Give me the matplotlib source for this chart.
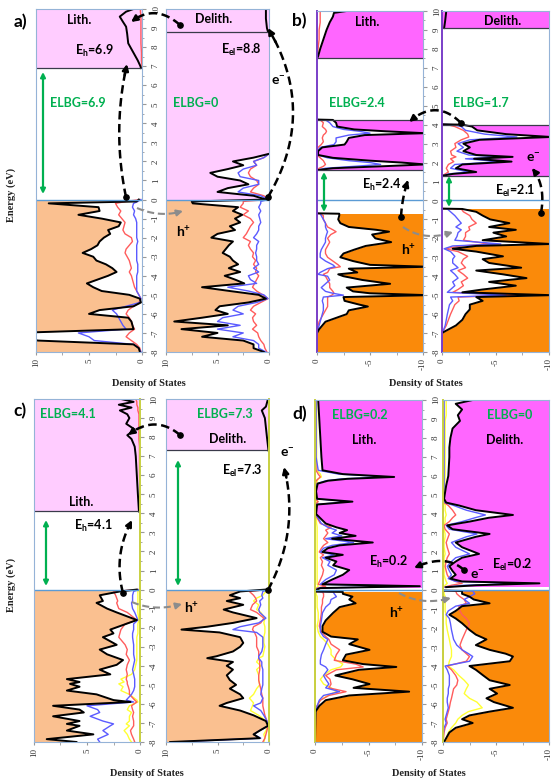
import numpy as np
import matplotlib
matplotlib.use('Agg')
import matplotlib.pyplot as plt
from matplotlib.lines import Line2D
from matplotlib.patches import FancyArrowPatch

W, H = 552, 782
plt.rcParams['font.family'] = ['Lato', 'DejaVu Sans']
plt.rcParams['mathtext.fontset'] = 'custom'
plt.rcParams['mathtext.rm'] = 'Lato:bold'
plt.rcParams['mathtext.it'] = 'Lato:bold'
plt.rcParams['mathtext.bf'] = 'Lato:bold'

# ---------------- DATA ----------------
ENERGY_TICKS = [-8, -7, -6, -5, -4, -3, -2, -1, 0, 1, 2, 3, 4, 5, 6, 7, 8, 9, 10]
DOS_TICKS_POS = [10, 5, 0]
DOS_TICKS_NEG = [0, -5, -10]

# panel a) left (lithiated)
AL_BANDS = [(-8, 0, 'vb'), (0, 6.9, 'gap'), (6.9, 10, 'cb')]
AL_LINES = [6.9]
AL_VB_E = [0.0, -0.1, -0.2, -0.4, -0.6, -0.8, -1.0, -1.2, -1.4, -1.6, -1.8, -2.0, -2.2, -2.4, -2.6, -2.8, -3.0,
           -3.2, -3.4, -3.6, -3.8, -4.0, -4.2, -4.4, -4.6, -4.8, -5.0, -5.2, -5.4, -5.6, -5.8, -6.0, -6.2, -6.4,
           -6.6, -6.8, -7.0, -7.2, -7.4, -7.6, -7.8, -8.0]
AL_VB_TOT = [0.3, 0.5, 8.8, 4.1, 4.0, 6.0, 3.8, 2.0, 2.2, 3.2, 3.0, 3.6, 4.0, 4.2, 4.8, 5.6, 4.6, 4.3, 3.4, 2.8, 2.4,
             3.2, 4.2, 5.2, 4.6, 3.8, 1.2, 0.2, 0.1, 0.8, 4.0, 5.0, 1.3, 1.0, 0.9, 0.8, 12, 12, 9.8, 0.8, 0.3, 0.2]
AL_VB_RED = [0.2, 1.5, 2.5, 2.3, 2.0, 2.2, 1.9, 1.6, 1.7, 1.8, 1.6, 1.0, 0.9, 1.2, 1.5, 1.6, 1.4, 1.2, 1.1, 1.0, 1.2,
             1.0, 0.9, 0.8, 0.7, 0.5, 0.3, 0.1, 0.3, 0.8, 1.3, 1.5, 1.2, 1.0, 0.9, 0.7, 1.2, 1.5, 1.0, 0.5, 0.2, 0.1]
AL_VB_BLUE = [0.1, 0.4, 0.8, 0.9, 0.7, 0.8, 0.6, 0.5, 0.5, 0.5, 0.5, 0.5, 0.4, 0.5, 0.5, 0.5, 0.5, 0.5, 0.4, 0.4, 0.4,
              0.5, 0.5, 0.5, 0.5, 0.5, 0.3, 0.1, 0.2, 1.5, 2.8, 2.4, 2.2, 2.0, 1.8, 1.5, 6.0, 5.0, 4.5, 0.8, 0.3, 0.1]
AL_CB_E = [10.0, 9.86, 9.6, 9.33, 9.07, 8.7, 8.2, 7.7, 7.3, 7.0, 6.9]
AL_CB_TOT = [0.8, 1.5, 2.1, 1.8, 1.5, 1.4, 1.3, 0.8, 0.4, 0.15, 0.1]
AL_CB_RED = [0.15, 0.15, 0.1, 0.1, 0.1, 0.1, 0.1, 0.05, 0.05, 0.0, 0.0]

# panel a) right (delithiated)
AR_BANDS = [(-8, 0, 'vb'), (0, 10, 'cb')]
AR_LINES = [8.8]
AR_VB_E = AL_VB_E
AR_VB_TOT = [0.3, 7.5, 7.4, 3.0, 3.5, 2.6, 3.3, 2.8, 3.8, 3.3, 5.0, 5.6, 3.5, 3.9, 4.2, 4.5, 3.8, 3.5, 3.0, 3.9, 2.8,
             4.3, 3.3, 2.4, 6.5, 3.8, 1.0, 0.3, 2.0, 4.8, 5.2, 4.0, 6.5, 9.2, 4.0, 8.5, 5.0, 6.5, 2.5, 1.5, 1.5, 0.5]
AR_VB_RED = [0.1, 2.5, 2.5, 2.8, 2.0, 2.5, 1.8, 1.5, 1.8, 2.0, 2.2, 2.5, 1.8, 2.0, 1.8, 1.5, 1.6, 1.3, 1.5, 1.2, 1.3,
             1.0, 1.2, 1.4, 1.6, 1.2, 0.6, 0.1, 0.8, 1.5, 1.8, 1.3, 1.6, 1.5, 1.2, 1.6, 1.1, 1.0, 0.8, 0.5, 0.4, 0.2]
AR_VB_BLUE = [0.1, 0.8, 0.8, 1.0, 0.8, 1.0, 0.9, 0.8, 1.0, 1.0, 1.2, 1.5, 1.0, 1.2, 1.2, 1.3, 1.2, 1.2, 1.0, 1.5, 1.0,
              2.0, 1.8, 1.2, 4.0, 2.0, 0.5, 0.1, 1.2, 3.0, 3.5, 2.5, 4.5, 5.0, 2.8, 5.0, 2.5, 3.5, 1.5, 1.0, 1.0, 0.3]
AR_CB_E = [2.4, 2.2, 2.0, 1.8, 1.6, 1.4, 1.2, 1.0, 0.8, 0.6, 0.4, 0.2, 0.0]
AR_CB_TOT = [0.0, 1.5, 3.5, 2.5, 4.0, 5.7, 5.0, 2.8, 2.0, 4.0, 5.0, 1.5, 0.3]
AR_CB_RED = [0.0, 0.5, 1.5, 1.2, 1.8, 2.0, 1.8, 1.2, 1.0, 1.5, 1.8, 0.5, 0.1]
AR_CB_BLUE = [0.0, 0.5, 1.5, 1.2, 2.5, 3.0, 2.8, 1.0, 1.0, 2.5, 3.0, 0.8, 0.1]
AR_TOP_E = [10.0, 9.5, 9.0, 8.8]
AR_TOP_TOT = [0.3, 0.3, 0.2, 0.1]

# panel b) left
BL_BANDS = [(-8, -0.7, 'vb'), (-0.7, 1.6, 'gap'), (1.6, 4.25, 'cb'), (4.25, 7.5, 'gap'), (7.5, 10, 'cb')]
BL_LINES = [1.6, 4.25, 7.5]
BL_VB_E = [-0.68, -0.7, -0.8, -1.0, -1.2, -1.4, -1.55, -1.65, -1.8, -2.0, -2.2, -2.4, -2.6, -2.8, -3.0, -3.2, -3.4,
           -3.5, -3.6, -3.8, -3.9, -4.0, -4.2, -4.4, -4.6, -4.8, -4.9, -5.0, -5.1, -5.3, -5.5, -5.6, -5.8, -6.0,
           -6.2, -6.4, -6.6, -6.8, -7.0, -8.0]
BL_VB_TOT = [0.0, 2.1, 2.1, 2.0, 2.2, 3.0, 5.6, 6.8, 5.2, 5.5, 7.0, 4.6, 3.5, 2.5, 2.2, 3.4, 5.0, 10.5, 3.0, 3.8, 2.0,
             2.5, 4.3, 6.9, 2.8, 3.4, 5.0, 10.5, 2.5, 2.6, 4.0, 4.8, 3.0, 2.8, 1.8, 0.8, 0.5, 0.2, 0.0, 0.0]
BL_VB_RED = [0.0, 0.3, 0.6, 0.6, 0.8, 1.0, 1.5, 1.8, 1.3, 1.0, 1.2, 1.0, 0.8, 0.8, 1.0, 1.5, 2.0, 2.2, 1.2, 1.0, 0.6,
             0.8, 1.0, 1.2, 1.2, 1.5, 1.6, 1.4, 1.0, 1.0, 1.0, 1.0, 0.8, 0.6, 0.4, 0.2, 0.1, 0.05, 0.0, 0.0]
BL_VB_BLUE = [0.0, 0.3, 0.4, 0.6, 0.8, 0.8, 0.9, 1.0, 0.9, 0.8, 0.8, 0.6, 0.4, 0.3, 0.3, 0.8, 1.5, 1.7, 1.0, 0.3, 0.1,
              1.0, 1.2, 0.8, 0.4, 0.8, 1.5, 2.5, 0.6, 0.5, 0.6, 0.6, 0.6, 0.5, 0.4, 0.3, 0.2, 0.1, 0.0, 0.0]
BL_CB_E = [4.27, 4.25, 4.1, 3.9, 3.75, 3.65, 3.55, 3.45, 3.3, 3.1, 2.95, 2.8, 2.6, 2.4, 2.25, 2.1, 2.0, 1.9, 1.8,
           1.7, 1.6]
BL_CB_TOT = [0.0, 1.5, 1.8, 1.9, 3.5, 6.5, 10.2, 4.5, 3.0, 2.8, 2.6, 0.5, 0.1, 0.1, 1.5, 5.0, 8.0, 10.2, 6.0, 1.5, 0.0]
BL_CB_RED = [0.0, 0.3, 0.6, 0.5, 0.8, 0.9, 0.8, 0.6, 0.5, 0.6, 0.4, 0.1, 0.0, 0.0, 0.3, 0.6, 0.7, 0.8, 0.6, 0.2, 0.0]
BL_CB_BLUE = [0.0, 0.8, 1.2, 1.5, 2.5, 4.0, 5.0, 3.0, 1.8, 1.8, 1.6, 0.3, 0.05, 0.05, 1.0, 3.0, 5.0, 6.0, 3.5, 0.8,
              0.0]
BL_TOP_E = [10.0, 9.9, 9.7, 9.4, 9.0, 8.5, 8.0, 7.6, 7.5]
BL_TOP_TOT = [2.8, 1.6, 1.5, 1.2, 0.9, 0.6, 0.3, 0.1, 0.0]
BL_TOP_RED = [0.3, 0.3, 0.3, 0.3, 0.2, 0.2, 0.1, 0.05, 0.0]

# panel b) right
BR_BANDS = [(-8, -0.45, 'vb'), (-0.45, 1.3, 'gap'), (1.3, 4.0, 'cb'), (4.0, 9.1, 'gap'), (9.1, 10, 'cb')]
BR_LINES = [1.3, 4.0, 9.1]
BR_VB_E = [-0.43, -0.45, -0.6, -0.8, -1.0, -1.2, -1.4, -1.55, -1.7, -1.9, -2.1, -2.3, -2.4, -2.55, -2.7, -2.95, -3.1,
           -3.3, -3.55, -3.7, -3.9, -4.1, -4.3, -4.5, -4.7, -4.85, -5.0, -5.1, -5.3, -5.5, -5.75, -6.0, -6.3, -6.6,
           -6.9, -7.0, -8.0]
BR_VB_TOT = [0.0, 1.9, 3.2, 3.8, 4.5, 6.3, 4.4, 6.9, 4.8, 6.0, 3.8, 10.2, 3.2, 1.0, 3.2, 5.7, 3.8, 4.4, 7.4, 3.2, 5.7,
             7.9, 4.4, 6.9, 3.8, 1.9, 10.2, 3.2, 3.8, 2.6, 2.6, 2.2, 1.9, 1.3, 0.3, 0.0, 0.0]
BR_VB_RED = [0.0, 1.8, 2.0, 2.6, 2.8, 3.2, 2.5, 2.6, 2.2, 2.2, 2.0, 4.5, 1.8, 0.3, 1.5, 2.4, 2.0, 1.8, 2.2, 1.5, 2.0,
             2.4, 1.8, 2.0, 1.5, 1.0, 7.0, 1.5, 1.6, 1.2, 1.0, 0.8, 0.6, 0.4, 0.1, 0.0, 0.0]
BR_VB_BLUE = [0.0, 0.5, 0.8, 1.2, 1.5, 1.8, 1.3, 1.8, 1.5, 1.4, 1.2, 5.5, 1.0, 0.2, 0.8, 1.2, 1.0, 1.0, 1.5, 0.8, 1.2,
              1.5, 1.0, 1.2, 0.8, 0.5, 6.0, 0.8, 1.0, 0.7, 0.6, 0.5, 0.4, 0.3, 0.1, 0.0, 0.0]
BR_CB_E = [4.02, 4.0, 3.9, 3.7, 3.5, 3.35, 3.2, 3.0, 2.8, 2.6, 2.4, 2.3, 2.2, 2.05, 1.9, 1.7, 1.5, 1.4, 1.3]
BR_CB_TOT = [0.0, 1.9, 2.8, 3.3, 6.0, 10.2, 3.5, 2.0, 2.6, 2.0, 3.2, 6.6, 3.0, 6.5, 1.9, 1.3, 3.2, 1.0, 0.0]
BR_CB_RED = [0.0, 0.5, 1.2, 2.0, 2.4, 2.5, 1.8, 1.2, 1.3, 0.8, 0.9, 1.3, 0.8, 1.1, 0.6, 0.4, 0.6, 0.3, 0.0]
BR_CB_BLUE = [0.0, 1.0, 1.8, 2.2, 4.0, 7.0, 2.6, 1.5, 2.0, 1.4, 2.5, 5.5, 2.2, 5.5, 1.2, 0.8, 2.5, 0.6, 0.0]
BR_TOP_E = [10.0, 9.5, 9.1]
BR_TOP_TOT = [0.4, 0.3, 0.2]

# panel c) left
CL_BANDS = [(-8, 0, 'vb'), (0, 4.1, 'gap'), (4.1, 10, 'cb')]
CL_LINES = [4.1]
CL_VB_E = [0.0, -0.1, -0.3, -0.6, -0.7, -1.0, -1.2, -1.6, -1.8, -2.1, -2.3, -2.5, -2.9, -3.15, -3.4, -3.7, -3.95,
           -4.2, -4.45, -4.7, -4.85, -4.95, -5.1, -5.3, -5.5, -5.8, -5.9, -6.1, -6.3, -6.45, -6.65, -6.9, -7.05,
           -7.15, -7.4, -7.6, -7.85, -8.0]
CL_VB_TOT = [0.3, 1.9, 3.8, 3.5, 4.1, 3.1, 2.2, 0.3, 1.3, 2.8, 2.5, 3.5, 2.2, 3.8, 3.1, 1.6, 2.2, 3.8, 2.8, 6.9, 5.7,
             6.6, 5.7, 6.9, 4.1, 2.5, 0.9, 8.2, 5.7, 5.3, 8.2, 5.7, 6.9, 5.7, 6.9, 4.4, 8.8, 6.0]
CL_VB_RED = [0.2, 2.5, 2.3, 2.1, 2.2, 2.0, 1.2, 0.3, 1.4, 1.8, 1.9, 2.0, 1.4, 1.2, 1.3, 1.0, 1.2, 1.3, 1.2, 1.3, 1.2,
             1.2, 1.1, 1.0, 1.0, 0.5, 0.3, 0.8, 0.7, 0.6, 0.7, 0.6, 0.6, 0.6, 0.9, 0.8, 0.6, 0.5]
CL_VB_BLUE = [0.1, 0.6, 0.7, 0.7, 0.8, 0.7, 0.5, 0.2, 0.6, 0.6, 0.7, 0.7, 0.6, 0.6, 0.6, 0.5, 0.6, 0.7, 0.6, 0.5, 0.5,
              0.5, 0.5, 0.6, 0.8, 1.3, 0.6, 5.0, 4.0, 3.8, 4.7, 3.5, 2.5, 2.8, 3.5, 3.0, 4.0, 3.8]
CL_VB_YEL = [0.1, 0.2, 0.2, 0.2, 0.2, 0.2, 0.2, 0.1, 0.2, 0.2, 0.2, 0.3, 0.3, 0.3, 0.3, 0.3, 0.4, 0.5, 0.8, 1.8, 1.5,
             2.0, 1.6, 1.8, 1.0, 0.3, 0.2, 1.0, 1.2, 0.8, 1.0, 1.0, 1.3, 1.0, 1.5, 1.2, 1.0, 0.8]
CL_CB_E = [10.0, 9.85, 9.7, 9.55, 9.4, 9.2, 9.0, 8.7, 8.4, 8.1, 7.9, 7.5, 7.0, 6.0, 5.0, 4.1]
CL_CB_TOT = [1.8, 0.6, 2.0, 0.8, 1.9, 1.2, 1.0, 1.3, 0.5, 1.2, 0.8, 0.5, 0.4, 0.3, 0.2, 0.1]
CL_CB_RED = [0.4, 0.3, 0.3, 0.2, 0.2, 0.1, 0.1, 0.1, 0.1, 0.1, 0.1, 0.05, 0.05, 0.05, 0.0, 0.0]

# panel c) right
CR_BANDS = [(-8, 0, 'vb'), (0, 7.3, 'gap'), (7.3, 10, 'cb')]
CR_LINES = [7.3]
CR_VB_E = [0.0, -0.1, -0.3, -0.45, -0.6, -0.8, -1.05, -1.2, -1.5, -1.75, -1.95, -2.1, -2.25, -2.5, -2.8, -3.0, -3.25,
           -3.5, -3.6, -3.8, -4.0, -4.2, -4.5, -4.75, -5.0, -5.2, -5.5, -5.7, -5.95, -6.1, -6.35, -6.6, -6.9, -7.15,
           -7.4, -7.6, -7.8, -8.0]
CR_VB_TOT = [0.3, 2.8, 3.8, 2.8, 4.1, 2.5, 4.4, 3.5, 1.2, 3.5, 6.0, 8.5, 4.8, 2.8, 2.5, 2.8, 3.5, 5.1, 6.0, 3.5, 4.1,
             3.5, 4.1, 3.8, 3.2, 3.8, 2.8, 2.5, 4.1, 4.8, 2.8, 1.5, 0.3, 0.1, 0.9, 1.5, 0.9, 9.6]
CR_VB_RED = [0.1, 1.9, 1.5, 1.3, 1.2, 1.6, 1.8, 1.2, 0.5, 0.8, 1.5, 1.6, 1.4, 1.2, 1.2, 1.2, 1.0, 1.0, 1.0, 0.9, 0.9,
             0.9, 1.0, 1.0, 0.9, 0.8, 0.7, 0.6, 0.6, 0.6, 0.5, 0.4, 0.2, 0.1, 0.2, 0.3, 0.4, 0.6]
CR_VB_BLUE = [0.1, 0.6, 0.7, 0.6, 0.9, 0.8, 1.0, 0.9, 0.3, 1.0, 2.8, 3.5, 1.2, 0.6, 0.6, 0.6, 0.7, 1.0, 1.0, 0.7, 0.7,
              0.6, 0.6, 0.6, 0.6, 0.7, 0.8, 0.6, 0.8, 1.5, 0.8, 0.5, 0.2, 0.05, 0.9, 1.5, 0.8, 9.0]
CR_VB_YEL = [0.1, 0.3, 0.6, 1.2, 1.5, 1.0, 1.2, 0.8, 0.4, 0.5, 0.4, 0.4, 0.4, 0.5, 0.5, 0.4, 0.5, 0.6, 1.0, 1.2, 0.8,
             1.2, 1.0, 1.0, 0.9, 1.2, 1.5, 1.9, 1.5, 1.6, 1.8, 1.0, 0.3, 0.1, 0.3, 0.5, 0.4, 0.5]
CR_CB_E = [10.0, 9.6, 9.4, 9.0, 8.0, 7.3]
CR_CB_TOT = [0.1, 0.3, 0.7, 0.4, 0.2, 0.05]

# panel d) left
DL_BANDS = [(-8, -0.1, 'vb'), (-0.1, 0.1, 'gap'), (0.1, 10, 'cb')]
DL_LINES = []
DL_CB_E = [10.0, 9.0, 8.0, 7.0, 6.3, 6.1, 5.95, 5.85, 5.75, 5.6, 5.2, 4.8, 4.65, 4.5, 4.0, 3.5, 3.3, 3.15, 3.0, 2.85,
           2.7, 2.5, 2.35, 2.2, 2.0, 1.85, 1.7, 1.5, 1.3, 1.05, 0.8, 0.55, 0.3, 0.2, 0.1, 0.0]
DL_CB_TOT = [0.3, 0.4, 0.5, 0.6, 0.7, 2.6, 7.4, 3.0, 1.2, 0.25, 0.1, 0.2, 3.5, 0.2, 0.1, 1.0, 2.0, 3.0, 2.3, 3.8, 1.6,
             5.4, 2.3, 1.2, 0.7, 2.6, 1.0, 2.0, 1.7, 3.2, 2.6, 1.6, 0.7, 9.8, 0.5, 0.1]
DL_CB_RED = [0.05, 0.05, 0.05, 0.05, 0.1, 0.3, 0.5, 0.3, 0.1, 0.05, 0.0, 0.0, 0.3, 0.0, 0.0, 0.5, 1.5, 1.0, 1.2, 1.0,
             0.8, 1.2, 0.8, 0.6, 0.4, 0.8, 0.5, 0.7, 0.6, 0.8, 0.7, 0.5, 0.3, 1.0, 0.2, 0.0]
DL_CB_BLUE = [0.1, 0.1, 0.1, 0.1, 0.3, 2.2, 6.8, 2.5, 1.0, 0.2, 0.05, 0.1, 3.2, 0.1, 0.05, 0.6, 1.2, 2.0, 1.6, 2.5,
              1.0, 3.6, 1.6, 0.8, 0.5, 1.8, 0.7, 1.4, 1.2, 2.0, 1.8, 1.0, 0.5, 9.0, 0.3, 0.05]
DL_CB_YEL = [0.15, 0.15, 0.15, 0.15, 0.2, 0.5, 0.6, 0.3, 0.2, 0.15, 0.1, 0.1, 0.2, 0.1, 0.1, 0.15, 0.2, 0.2, 0.2, 0.2,
             0.2, 0.2, 0.2, 0.2, 0.2, 0.2, 0.2, 0.2, 0.2, 0.2, 0.2, 0.2, 0.2, 0.3, 0.1, 0.0]
DL_VB_E = [-0.08, -0.1, -0.2, -0.35, -0.5, -0.7, -0.9, -1.2, -1.6, -1.9, -2.2, -2.45, -2.6, -2.85, -3.15, -3.4, -3.7,
           -3.9, -4.05, -4.2, -4.5, -4.7, -4.95, -5.15, -5.35, -5.55, -5.8, -6.1, -6.4, -8.0]
DL_VB_TOT = [0.0, 2.6, 2.6, 3.5, 3.2, 3.8, 2.3, 1.7, 1.0, 0.7, 0.7, 1.5, 4.0, 3.2, 5.1, 2.9, 2.6, 4.5, 7.6, 4.1, 1.9,
             3.5, 5.1, 3.6, 8.8, 3.2, 1.0, 0.4, 0.05, 0.0]
DL_VB_RED = [0.0, 0.7, 0.8, 0.8, 0.7, 0.7, 0.6, 0.6, 0.5, 0.4, 0.6, 1.0, 1.3, 1.5, 2.3, 2.0, 1.8, 3.8, 4.5, 2.0, 1.0,
             1.4, 1.5, 1.3, 2.9, 1.3, 0.5, 0.2, 0.05, 0.0]
DL_VB_BLUE = [0.0, 1.7, 1.8, 2.0, 1.5, 1.4, 1.0, 0.7, 0.6, 0.5, 0.5, 0.8, 1.2, 1.0, 0.8, 0.6, 0.5, 0.5, 1.0, 1.2, 0.8,
              1.0, 1.3, 1.0, 2.3, 0.8, 0.4, 0.2, 0.05, 0.0]
DL_VB_YEL = [0.0, 0.1, 0.1, 0.2, 0.2, 0.2, 0.2, 0.3, 0.3, 0.2, 0.3, 0.5, 0.8, 1.2, 1.5, 1.5, 2.0, 2.6, 2.4, 1.5, 0.8,
             0.5, 0.8, 1.5, 2.0, 1.2, 0.5, 0.2, 0.05, 0.0]

# panel d) right
DR_BANDS = [(-8, -0.05, 'vb'), (-0.05, 0.15, 'gap'), (0.15, 10, 'cb')]
DR_LINES = []
DR_CB_E = [10.0, 9.8, 9.5, 9.2, 8.9, 8.5, 8.0, 7.5, 7.0, 6.0, 5.5, 4.8, 4.6, 4.45, 4.2, 3.95, 3.8, 3.6, 3.4, 3.2,
           2.95, 2.8, 2.5, 2.25, 1.9, 1.7, 1.5, 1.25, 1.0, 0.8, 0.6, 0.45, 0.35, 0.25, 0.15]
DR_CB_TOT = [2.8, 1.2, 1.8, 1.4, 1.6, 0.9, 0.7, 0.6, 0.6, 0.5, 0.3, 0.1, 0.3, 1.5, 3.1, 6.6, 4.3, 2.5, 0.4, 0.9, 4.4,
             3.1, 1.2, 1.8, 3.4, 1.8, 1.2, 0.6, 0.9, 1.2, 0.7, 1.8, 9.1, 3.1, 0.3]
DR_CB_RED = [0.05, 0.05, 0.05, 0.05, 0.05, 0.05, 0.05, 0.05, 0.05, 0.05, 0.05, 0.0, 0.1, 0.5, 0.9, 1.2, 0.9, 0.6, 0.1,
             0.2, 0.6, 0.5, 0.3, 0.4, 0.6, 0.4, 0.3, 0.2, 0.3, 0.4, 0.6, 1.2, 1.8, 0.8, 0.1]
DR_CB_BLUE = [0.1, 0.1, 0.1, 0.1, 0.1, 0.1, 0.1, 0.1, 0.1, 0.1, 0.1, 0.05, 0.2, 1.0, 2.2, 4.0, 3.0, 1.8, 0.3, 0.6, 3.2,
              2.2, 0.8, 1.2, 2.5, 1.2, 0.8, 0.4, 0.6, 0.8, 0.5, 1.2, 8.0, 2.0, 0.2]
DR_CB_YEL = [0.3, 0.3, 0.3, 0.3, 0.2, 0.2, 0.2, 0.2, 0.2, 0.2, 0.15, 0.1, 0.1, 0.2, 0.2, 0.3, 0.2, 0.2, 0.1, 0.1, 0.2,
             0.2, 0.1, 0.1, 0.2, 0.1, 0.1, 0.1, 0.1, 0.1, 0.2, 0.3, 0.4, 0.2, 0.1]
DR_VB_E = [-0.03, -0.05, -0.2, -0.35, -0.5, -0.7, -0.85, -1.1, -1.3, -1.5, -1.75, -2.1, -2.35, -2.6, -2.9, -3.15,
           -3.35, -3.5, -3.75, -4.0, -4.2, -4.5, -4.75, -5.0, -5.2, -5.45, -5.7, -5.9, -6.2, -6.4, -6.6, -6.8, -7.0,
           -7.25, -7.5, -7.8, -8.0]
DR_VB_TOT = [0.0, 1.8, 1.8, 2.5, 2.9, 4.4, 1.8, 1.2, 0.6, 1.2, 1.8, 2.5, 3.1, 4.1, 3.1, 4.4, 5.9, 6.6, 6.3, 2.5, 3.1,
             3.8, 4.4, 6.3, 4.4, 5.1, 4.1, 4.8, 6.6, 4.4, 2.5, 1.8, 2.8, 1.2, 0.6, 0.3, 0.1]
DR_VB_RED = [0.0, 1.2, 1.3, 1.6, 2.0, 2.2, 1.5, 1.6, 1.8, 2.2, 2.5, 2.2, 2.0, 1.8, 1.6, 1.8, 2.2, 2.5, 2.2, 0.4, 0.8,
             1.2, 1.4, 1.3, 1.0, 0.9, 0.8, 0.7, 0.6, 0.5, 0.4, 0.3, 0.4, 0.2, 0.1, 0.05, 0.0]
DR_VB_BLUE = [0.0, 2.8, 3.0, 2.5, 2.0, 2.5, 1.2, 0.5, 0.3, 0.6, 0.7, 0.8, 0.9, 1.0, 1.3, 1.8, 2.4, 2.8, 2.5, 0.2, 0.4,
              0.6, 0.6, 0.6, 0.5, 0.5, 0.4, 0.4, 0.5, 0.4, 0.3, 0.2, 0.3, 0.1, 0.05, 0.0, 0.0]
DR_VB_YEL = [0.0, 0.1, 0.1, 0.2, 0.2, 0.2, 0.2, 0.2, 0.3, 0.3, 0.3, 0.4, 0.5, 0.6, 0.7, 0.8, 0.8, 0.8, 0.6, 0.5, 1.0,
             1.5, 2.0, 2.4, 2.2, 2.0, 2.5, 3.2, 3.7, 2.4, 1.8, 1.4, 1.2, 0.8, 0.5, 0.3, 0.1]

# ---------------- STYLE ----------------
PINK_L = '#FFCCFF'
TAN = '#FAC090'
MAGENTA = '#FF66FF'
ORANGE = '#FA8A0A'
GREEN = '#00B050'
C_RED = '#FF5C5C'
C_BLUE = '#5B5BFF'
C_YEL = '#FFFF33'
FERMI = '#5B9BD5'
SPINE = '#95B3D7'

fig = plt.figure(figsize=(W / 100, H / 100), dpi=100)


def rect(x0, y0, x1, y1):
    return [x0 / W, 1 - y1 / H, (x1 - x0) / W, (y1 - y0) / H]


def seg(E, tot, red=None, blue=None, yel=None, fill=True):
    return dict(E=E, tot=tot, red=red, blue=blue, yel=yel, fill=fill)


def draw_sub(box, bands, lines, segments, neg, light, show_energy, zero_spine_color=None):
    ax = fig.add_axes(rect(*box))
    sgn = -1.0 if neg else 1.0
    cmap = {'vb': TAN if light else ORANGE, 'cb': PINK_L if light else MAGENTA, 'gap': 'white'}
    for lo, hi, kind in bands:
        ax.axhspan(lo, hi, color=cmap[kind], lw=0, zorder=0)
    for s in segments:
        E = np.array(s['E'], dtype=float)
        tot = sgn * np.array(s['tot'], dtype=float)
        if s['fill']:
            ax.fill_betweenx(E, 0, tot, color='white', lw=0, zorder=1)
        for key, col, lw, z in (('yel', C_YEL, 1.0, 2), ('red', C_RED, 1.0, 3), ('blue', C_BLUE, 1.0, 4)):
            if s[key] is not None:
                ax.plot(sgn * np.array(s[key], dtype=float), E, color=col, lw=lw, zorder=z)
        ax.plot(tot, E, color='black', lw=1.4, zorder=5)
    for l in lines:
        ax.axhline(l, color='#3A3A4A', lw=0.9, zorder=6)
    ax.axhline(0, color=FERMI, lw=1.0, zorder=6)
    if neg:
        ax.set_xlim(0, -10)
        ax.set_xticks(DOS_TICKS_NEG)
        ax.set_xticklabels([str(t) for t in DOS_TICKS_NEG])
        ax.set_xticks([-2.5, -7.5], minor=True)
    else:
        ax.set_xlim(10, 0)
        ax.set_xticks(DOS_TICKS_POS)
        ax.set_xticklabels([str(t) for t in DOS_TICKS_POS])
        ax.set_xticks([2.5, 7.5], minor=True)
    ax.set_ylim(-8, 10)
    for lab in ax.get_xticklabels():
        lab.set_rotation(90)
        lab.set_fontfamily('Liberation Serif')
        lab.set_fontsize(6.5)
        lab.set_color('#333333')
    ax.tick_params(axis='x', which='both', direction='out', length=2.5, color='#999999', pad=2)
    if show_energy:
        ax.yaxis.tick_right()
        ax.set_yticks(ENERGY_TICKS)
        ax.set_yticklabels([str(t) for t in ENERGY_TICKS])
        ax.set_yticks([t + 0.5 for t in ENERGY_TICKS[:-1]], minor=True)
        for lab in ax.get_yticklabels():
            lab.set_rotation(90)
            lab.set_fontfamily('Liberation Serif')
            lab.set_fontsize(6.5)
            lab.set_color('#333333')
            lab.set_va('center')
        ax.tick_params(axis='y', which='major', direction='out', length=3, color='#999999', pad=4)
        ax.tick_params(axis='y', which='minor', direction='out', length=1.5, color='#999999')
    else:
        ax.set_yticks([])
    for sp in ax.spines.values():
        sp.set_color(SPINE)
        sp.set_linewidth(0.8)
        sp.set_zorder(7)
    if zero_spine_color is not None:
        side = 'left' if neg else 'right'
        ax.spines[side].set_color(zero_spine_color)
        ax.spines[side].set_linewidth(1.4)
    return ax


PURPLE = '#7A3FC8'
OLIVE = '#C8D040'

# panel a
draw_sub((36, 9, 142, 352), AL_BANDS, AL_LINES,
         [seg(AL_VB_E, AL_VB_TOT, AL_VB_RED, AL_VB_BLUE),
          seg(AL_CB_E, AL_CB_TOT, AL_CB_RED, fill=False)], False, True, True)
draw_sub((166, 9, 269, 352), AR_BANDS, AR_LINES,
         [seg(AR_VB_E, AR_VB_TOT, AR_VB_RED, AR_VB_BLUE),
          seg(AR_CB_E, AR_CB_TOT, AR_CB_RED, AR_CB_BLUE),
          seg(AR_TOP_E, AR_TOP_TOT, fill=False)], False, True, False)
# panel b
draw_sub((317, 11, 423, 352), BL_BANDS, BL_LINES,
         [seg(BL_VB_E, BL_VB_TOT, BL_VB_RED, BL_VB_BLUE),
          seg(BL_CB_E, BL_CB_TOT, BL_CB_RED, BL_CB_BLUE),
          seg(BL_TOP_E, BL_TOP_TOT, BL_TOP_RED)], True, False, True, PURPLE)
draw_sub((442, 11, 549, 352), BR_BANDS, BR_LINES,
         [seg(BR_VB_E, BR_VB_TOT, BR_VB_RED, BR_VB_BLUE),
          seg(BR_CB_E, BR_CB_TOT, BR_CB_RED, BR_CB_BLUE),
          seg(BR_TOP_E, BR_TOP_TOT, fill=False)], True, False, False, PURPLE)
# panel c
draw_sub((34, 399, 140, 742), CL_BANDS, CL_LINES,
         [seg(CL_VB_E, CL_VB_TOT, CL_VB_RED, CL_VB_BLUE, CL_VB_YEL),
          seg(CL_CB_E, CL_CB_TOT, CL_CB_RED, fill=False)], False, True, True, OLIVE)
draw_sub((166, 399, 269, 742), CR_BANDS, CR_LINES,
         [seg(CR_VB_E, CR_VB_TOT, CR_VB_RED, CR_VB_BLUE, CR_VB_YEL),
          seg(CR_CB_E, CR_CB_TOT, fill=False)], False, True, False, OLIVE)
# panel d
draw_sub((315, 400, 422, 742), DL_BANDS, DL_LINES,
         [seg(DL_VB_E, DL_VB_TOT, DL_VB_RED, DL_VB_BLUE, DL_VB_YEL),
          seg(DL_CB_E, DL_CB_TOT, DL_CB_RED, DL_CB_BLUE, DL_CB_YEL)], True, False, True, OLIVE)
draw_sub((443, 400, 549, 742), DR_BANDS, DR_LINES,
         [seg(DR_VB_E, DR_VB_TOT, DR_VB_RED, DR_VB_BLUE, DR_VB_YEL),
          seg(DR_CB_E, DR_CB_TOT, DR_CB_RED, DR_CB_BLUE, DR_CB_YEL)], True, False, False, OLIVE)


# ---------------- ANNOTATIONS ----------------
def fx(x):
    return x / W


def fy(y):
    return 1 - y / H


def txt(x, y, s, size=9, color='black', weight='bold', **kw):
    fig.text(fx(x), fy(y), s, ha='center', va='center', fontsize=size, color=color, fontweight=weight, **kw)


def curve_arrow(A, C, B, color='black', dot=True, lw=1.8):
    t = np.linspace(0, 1, 60)
    xs = (1 - t) ** 2 * A[0] + 2 * (1 - t) * t * C[0] + t ** 2 * B[0]
    ys = (1 - t) ** 2 * A[1] + 2 * (1 - t) * t * C[1] + t ** 2 * B[1]
    fig.add_artist(Line2D(fx(xs[:-4]), fy(ys[:-4]), transform=fig.transFigure, color=color, lw=lw,
                          ls=(0, (3.4, 1.8)), zorder=20))
    fig.add_artist(FancyArrowPatch((fx(xs[-6]), fy(ys[-6])), (fx(xs[-1]), fy(ys[-1])),
                                   transform=fig.transFigure, arrowstyle='-|>', mutation_scale=9,
                                   color=color, lw=lw, shrinkA=0, shrinkB=0, zorder=21))
    if dot:
        fig.add_artist(Line2D([fx(xs[0])], [fy(ys[0])], transform=fig.transFigure, marker='o', ms=3.8,
                              color=color, zorder=21))


def green_arrow(x, y0, y1):
    fig.add_artist(FancyArrowPatch((fx(x), fy(y0)), (fx(x), fy(y1)), transform=fig.transFigure,
                                   arrowstyle='<|-|>', mutation_scale=7, color=GREEN, lw=1.6,
                                   shrinkA=0, shrinkB=0, zorder=20))


GREY = '#8C8C8C'

# panel labels
txt(20, 22, 'a)', size=12.5)
txt(299, 21, 'b)', size=12.5)
txt(20, 411, 'c)', size=12.5)
txt(300, 414, 'd)', size=12.5)

# panel a texts
txt(79, 20, 'Lith.')
txt(94, 51, r'E$_\mathrm{h}$=6.9')
txt(78, 103, 'ELBG=6.9', color=GREEN)
txt(214, 19, 'Delith.')
txt(241, 50, r'E$_\mathrm{el}$=8.8')
txt(196, 103, 'ELBG=0', color=GREEN)
txt(278, 80, r'e$^{-}$', size=10)
txt(184, 232, r'h$^{+}$', size=10)
green_arrow(43, 72, 194)
curve_arrow((180, 25), (155, 3), (131, 22))
curve_arrow((126, 197), (112, 130), (127, 64))
curve_arrow((268, 197), (318, 112), (268, 28))
curve_arrow((137, 208), (160, 218), (183, 211), color=GREY, dot=False, lw=1.5)

# panel b texts
txt(367, 22, 'Lith.')
txt(503, 21, 'Delith.')
txt(357, 103, 'ELBG=2.4', color=GREEN)
txt(481, 103, 'ELBG=1.7', color=GREEN)
txt(382, 185, r'E$_\mathrm{h}$=2.4')
txt(515, 191, r'E$_\mathrm{el}$=2.1')
txt(533, 157, r'e$^{-}$', size=10)
txt(409, 250, r'h$^{+}$', size=10)
green_arrow(324, 172, 212)
green_arrow(449, 176, 207)
curve_arrow((461, 123), (436, 98), (409, 122))
curve_arrow((401, 217), (402, 198), (408, 180))
curve_arrow((541, 213), (546, 185), (532, 168))
curve_arrow((403, 227), (425, 242), (453, 232), color=GREY, dot=False, lw=1.5)

# panel c texts
txt(68, 414, 'ELBG=4.1', color=GREEN)
txt(225, 414, 'ELBG=7.3', color=GREEN)
txt(228, 439, 'Delith.')
txt(242, 471, r'E$_\mathrm{el}$=7.3')
txt(81, 502, 'Lith.')
txt(93, 526, r'E$_\mathrm{h}$=4.1')
txt(287, 452, r'e$^{-}$', size=10)
txt(192, 608, r'h$^{+}$', size=10)
green_arrow(46, 520, 586)
green_arrow(178, 460, 586)
curve_arrow((180, 435), (155, 414), (128, 435))
curve_arrow((123, 593), (113, 555), (132, 520))
curve_arrow((268, 590), (300, 530), (284, 467))
curve_arrow((132, 602), (155, 612), (182, 604), color=GREY, dot=False, lw=1.5)

# panel d texts
txt(360, 415, 'ELBG=0.2', color=GREEN)
txt(364, 440, 'Lith.')
txt(510, 415, 'ELBG=0', color=GREEN)
txt(505, 440, 'Delith.')
txt(388, 562, r'E$_\mathrm{h}$=0.2')
txt(477, 574, r'e$^{-}$', size=10)
txt(512, 565, r'E$_\mathrm{el}$=0.2')
txt(397, 613, r'h$^{+}$', size=10)
curve_arrow((464, 570), (445, 553), (414, 568))
curve_arrow((399, 593), (422, 606), (451, 598), color=GREY, dot=False, lw=1.5)

# axis titles
for (x, y) in [(149, 383), (426, 383), (147, 773), (429, 773)]:
    fig.text(fx(x), fy(y), 'Density of States', ha='center', va='center', fontsize=7.5,
             fontweight='bold', fontfamily='Liberation Serif', color='#222222')
for (x, y) in [(11, 195), (11, 585)]:
    fig.text(fx(x), fy(y), 'Energy (eV)', ha='center', va='center', fontsize=7.5, rotation=90,
             fontweight='bold', fontfamily='Liberation Serif', color='#222222')

fig.savefig('out.png', dpi=100)
